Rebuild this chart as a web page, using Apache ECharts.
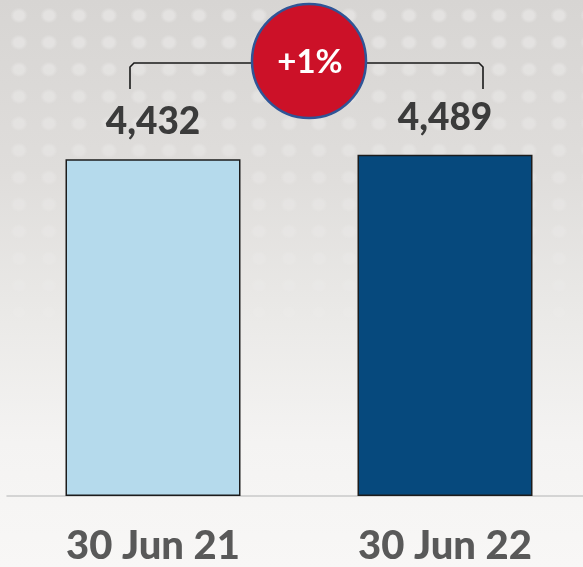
<!DOCTYPE html>
<html>
<head>
<meta charset="utf-8">
<script src="https://cdn.jsdelivr.net/npm/echarts@6/dist/echarts.min.js"></script>
<style>
  html, body { margin: 0; padding: 0; }
  body {
    width: 583px; height: 567px; position: relative; overflow: hidden;
    background: linear-gradient(180deg, #d7d5d3 0%, #dfdddb 30%, #eae9e7 55%, #f4f3f2 78%, #f8f7f6 100%);
  }
  /* faint dotted texture in the upper half */
  .dots {
    position: absolute; left: 0; top: 0; width: 583px; height: 380px;
    background-image: radial-gradient(ellipse 9px 8px at center, rgba(255,255,255,.32) 55%, rgba(255,255,255,0) 100%);
    background-size: 30px 27px;
    background-position: 4px 2px;
    -webkit-mask-image: linear-gradient(180deg, rgba(0,0,0,1) 0%, rgba(0,0,0,.55) 45%, rgba(0,0,0,0) 100%);
    mask-image: linear-gradient(180deg, rgba(0,0,0,1) 0%, rgba(0,0,0,.55) 45%, rgba(0,0,0,0) 100%);
  }
  /* chart is a bit wider than the window so the last band is not squeezed */
  #chart { position: absolute; left: 0; top: 0; width: 600px; height: 567px; }
</style>
</head>
<body>
<div class="dots"></div>
<div id="chart"></div>
<script>
/* ---- data ---- */
const categories = ["30 Jun 21", "30 Jun 22"];
const values = [4432, 4489];
const barColors = ["#b5daec", "#06497d"];
const changeText = "+1%";

/* ---- helpers ---- */
const fmt = (v) => Number(v).toLocaleString("en-US");
const FONT = "Lato, 'Open Sans', sans-serif";

const chart = echarts.init(document.getElementById("chart"), null, { renderer: "canvas" });

chart.setOption({
  backgroundColor: "transparent",
  animation: false,
  grid: { left: 7, width: 584, top: 2, bottom: 71 },
  xAxis: {
    type: "category",
    data: categories,
    axisLine: { lineStyle: { color: "#c9c9c9", width: 1.5 } },
    axisTick: { show: false },
    axisLabel: {
      margin: 30,
      fontFamily: FONT, fontWeight: 900, fontSize: 40, lineHeight: 40, color: "#595959",
    },
  },
  yAxis: { type: "value", min: 0, max: 6500, show: false, splitLine: { show: false } },
  series: [{
    type: "bar",
    barWidth: 175,
    data: values.map((v, i) => ({ value: v, itemStyle: { color: barColors[i] } })),
    itemStyle: { borderColor: "#1c1c1c", borderWidth: 1.5 },
    label: {
      show: true, position: "top", distance: 18,
      formatter: (p) => fmt(p.value),
      fontFamily: FONT, fontWeight: 900, fontSize: 37, lineHeight: 38, color: "#3b3b3b",
    },
  }],
  graphic: [
    {
      type: "polyline", z: 10,
      shape: { points: [[130, 89], [130, 67], [134, 63], [479, 63], [483, 67], [483, 89]] },
      style: { stroke: "#1a1a1a", lineWidth: 1.6, fill: null },
    },
    {
      type: "circle", z: 11,
      shape: { cx: 309, cy: 61, r: 57 },
      style: { fill: "#cc1128", stroke: "#2f5597", lineWidth: 2.5 },
    },
    {
      type: "text", z: 12, x: 310, y: 62,
      style: {
        text: changeText, fill: "#ffffff", font: `bold 33px ${FONT}`,
        align: "center", verticalAlign: "middle",
      },
    },
  ],
});
</script>
</body>
</html>
